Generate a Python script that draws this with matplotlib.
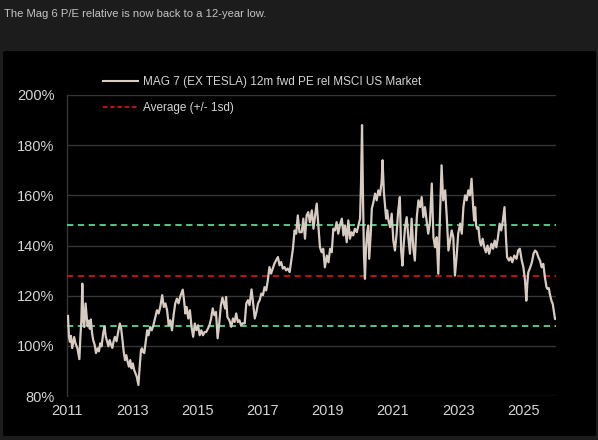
import matplotlib
matplotlib.use("Agg")
import matplotlib.pyplot as plt
from matplotlib.patches import FancyBboxPatch
from matplotlib.lines import Line2D

# ---------------- data ----------------
dates = [
    2011.00, 2011.03, 2011.06, 2011.09, 2011.12, 2011.16, 2011.22, 2011.26, 2011.32, 2011.38,
    2011.41, 2011.44, 2011.47, 2011.50, 2011.53, 2011.57, 2011.60, 2011.63, 2011.67, 2011.70,
    2011.73, 2011.77, 2011.80, 2011.85, 2011.89, 2011.94, 2011.98, 2012.02, 2012.06, 2012.11,
    2012.15, 2012.19, 2012.23, 2012.27, 2012.31, 2012.35, 2012.39, 2012.43, 2012.47, 2012.52,
    2012.57, 2012.62, 2012.66, 2012.70, 2012.74, 2012.78, 2012.82, 2012.86, 2012.90, 2012.94,
    2012.98, 2013.02, 2013.06, 2013.10, 2013.14, 2013.19, 2013.23, 2013.27, 2013.30, 2013.33,
    2013.37, 2013.41, 2013.46, 2013.50, 2013.55, 2013.60, 2013.65, 2013.70, 2013.76, 2013.81,
    2013.86, 2013.92, 2013.97, 2014.02, 2014.07, 2014.12, 2014.17, 2014.22, 2014.27, 2014.32,
    2014.37, 2014.42, 2014.47, 2014.55, 2014.59, 2014.63, 2014.67, 2014.72, 2014.77, 2014.82,
    2014.87, 2014.92, 2014.97, 2015.02, 2015.07, 2015.12, 2015.17, 2015.22, 2015.27, 2015.32,
    2015.37, 2015.42, 2015.47, 2015.52, 2015.57, 2015.62, 2015.67, 2015.72, 2015.77, 2015.81,
    2015.85, 2015.88, 2015.92, 2015.98, 2016.04, 2016.09, 2016.14, 2016.19, 2016.24, 2016.29,
    2016.34, 2016.39, 2016.45, 2016.50, 2016.55, 2016.60, 2016.66, 2016.71, 2016.76, 2016.81,
    2016.86, 2016.91, 2016.96, 2017.01, 2017.06, 2017.11, 2017.16, 2017.21, 2017.26, 2017.31,
    2017.36, 2017.41, 2017.47, 2017.52, 2017.57, 2017.62, 2017.67, 2017.72, 2017.77, 2017.83,
    2017.88, 2017.93, 2017.98, 2018.03, 2018.08, 2018.13, 2018.20, 2018.25, 2018.30, 2018.35,
    2018.40, 2018.45, 2018.51, 2018.56, 2018.61, 2018.66, 2018.71, 2018.76, 2018.81, 2018.86,
    2018.91, 2018.97, 2019.02, 2019.07, 2019.12, 2019.17, 2019.22, 2019.27, 2019.32, 2019.37,
    2019.43, 2019.48, 2019.53, 2019.58, 2019.63, 2019.68, 2019.73, 2019.78, 2019.83, 2019.89,
    2019.94, 2019.99, 2020.02, 2020.05, 2020.08, 2020.11, 2020.14, 2020.17, 2020.21, 2020.24,
    2020.27, 2020.32, 2020.35, 2020.40, 2020.45, 2020.50, 2020.55, 2020.60, 2020.65, 2020.68,
    2020.72, 2020.76, 2020.79, 2020.82, 2020.86, 2020.91, 2020.96, 2021.01, 2021.06, 2021.11,
    2021.16, 2021.21, 2021.25, 2021.29, 2021.33, 2021.37, 2021.42, 2021.47, 2021.52, 2021.57,
    2021.62, 2021.67, 2021.73, 2021.78, 2021.83, 2021.88, 2021.93, 2021.98, 2022.03, 2022.08,
    2022.13, 2022.19, 2022.24, 2022.29, 2022.34, 2022.39, 2022.44, 2022.49, 2022.54, 2022.60,
    2022.65, 2022.70, 2022.75, 2022.80, 2022.85, 2022.90, 2022.95, 2023.00, 2023.06, 2023.11,
    2023.16, 2023.21, 2023.26, 2023.31, 2023.36, 2023.41, 2023.46, 2023.49, 2023.52, 2023.55,
    2023.58, 2023.62, 2023.66, 2023.70, 2023.75, 2023.80, 2023.85, 2023.90, 2023.95, 2024.02,
    2024.07, 2024.12, 2024.17, 2024.22, 2024.27, 2024.32, 2024.37, 2024.42, 2024.47, 2024.50,
    2024.56, 2024.61, 2024.66, 2024.72, 2024.79, 2024.84, 2024.89, 2024.95, 2025.00, 2025.05,
    2025.09, 2025.12, 2025.15, 2025.21, 2025.26, 2025.31, 2025.36, 2025.41, 2025.46, 2025.51,
    2025.56, 2025.61, 2025.66, 2025.71, 2025.74, 2025.78, 2025.81, 2025.86, 2025.90, 2025.93,
    2025.97, 2026.01,
]
values = [
    111.0, 112.0, 103.6, 101.6, 104.0, 99.1, 103.5, 101.0, 99.0, 94.7,
    103.5, 110.0, 124.8, 110.0, 107.5, 116.9, 112.5, 107.8, 110.0, 106.8,
    110.5, 105.0, 102.5, 100.3, 97.1, 99.0, 97.8, 101.0, 99.8, 105.0,
    107.6, 103.6, 101.8, 99.8, 102.3, 100.5, 99.2, 101.8, 103.6, 101.8,
    105.5, 108.9, 107.0, 102.5, 97.6, 94.3, 96.3, 93.6, 91.7, 94.3,
    91.0, 93.0, 90.4, 89.0, 87.7, 84.4, 91.7, 98.3, 99.0, 97.6,
    97.1, 101.0, 106.2, 104.2, 107.5, 106.2, 108.2, 110.9, 114.2, 112.9,
    115.5, 120.2, 115.5, 116.9, 114.2, 108.2, 110.2, 106.2, 112.2, 116.9,
    118.8, 116.9, 119.5, 122.4, 118.2, 112.9, 115.5, 110.9, 114.2, 107.6,
    103.6, 108.9, 106.2, 108.2, 104.2, 106.2, 104.2, 105.5, 105.5, 106.8,
    108.2, 110.9, 114.9, 112.2, 113.5, 103.0, 109.0, 116.2, 119.2, 116.9,
    114.9, 119.5, 111.5, 110.2, 107.6, 110.9, 109.5, 112.9, 109.5, 110.2,
    108.2, 109.0, 108.9, 116.9, 118.2, 116.2, 122.5, 116.9, 110.9, 113.5,
    116.9, 118.2, 120.8, 120.2, 123.4, 122.1, 126.1, 131.4, 128.8, 130.8,
    132.7, 134.0, 135.4, 132.1, 133.4, 130.8, 131.4, 130.1, 130.8, 129.4,
    134.0, 138.7, 146.0, 144.7, 152.0, 145.3, 145.3, 150.7, 142.7, 152.0,
    153.3, 149.3, 154.0, 146.7, 152.0, 156.7, 148.0, 139.3, 137.3, 138.7,
    131.3, 136.0, 133.3, 138.7, 137.3, 146.7, 146.0, 149.3, 144.7, 148.0,
    150.7, 144.0, 148.0, 141.3, 150.0, 142.7, 145.3, 144.0, 146.7, 145.3,
    148.0, 150.7, 165.3, 188.0, 158.7, 136.0, 126.7, 138.7, 145.3, 148.0,
    134.7, 145.3, 154.7, 157.3, 160.7, 158.0, 162.0, 160.0, 165.3, 174.0,
    161.3, 155.0, 150.7, 154.0, 150.0, 147.3, 152.7, 142.0, 138.0, 144.7,
    154.0, 159.3, 138.0, 132.0, 140.7, 147.3, 151.3, 143.3, 136.7, 150.7,
    139.3, 134.0, 151.3, 158.0, 155.3, 159.3, 151.3, 155.3, 150.0, 144.7,
    148.7, 164.7, 143.3, 139.3, 143.3, 128.7, 151.3, 172.0, 158.0, 162.0,
    151.3, 138.0, 142.0, 146.0, 143.3, 128.0, 135.3, 144.7, 148.7, 144.7,
    155.3, 160.0, 158.0, 162.0, 160.0, 166.6, 155.0, 150.0, 155.3, 148.0,
    146.7, 147.3, 142.0, 140.0, 142.7, 139.3, 137.3, 140.0, 136.7, 140.7,
    138.7, 142.0, 139.3, 143.3, 148.7, 146.0, 150.0, 155.3, 142.0, 135.3,
    134.0, 135.3, 133.3, 136.0, 134.7, 138.0, 138.7, 134.0, 131.3, 126.0,
    118.0, 124.7, 129.3, 131.3, 133.3, 136.7, 138.0, 137.3, 135.3, 134.0,
    131.3, 132.7, 127.3, 123.3, 122.7, 123.0, 120.7, 118.0, 116.7, 114.0,
    110.7, 110.7,
]
avg_value = 128.0
sd_value = 20.0

series_label = "MAG 7 (EX TESLA) 12m fwd PE rel MSCI US Market"
avg_label = "Average (+/- 1sd)"
title_text = "The Mag 6 P/E relative is now back to a 12-year low."
x_ticks = [2011, 2013, 2015, 2017, 2019, 2021, 2023, 2025]
y_ticks = [80, 100, 120, 140, 160, 180, 200]

# ---------------- styling ----------------
outer_bg = "#1c1c1c"
panel_bg = "#000000"
text_col = "#d4d4d4"
grid_col = "#363636"
line_col = "#d8ccc2"
red_col = "#c81616"
green_col = "#5cd690"

plt.rcParams["font.family"] = ["Liberation Sans", "DejaVu Sans"]

W, H = 598, 440
fig = plt.figure(figsize=(W / 100, H / 100), dpi=100, facecolor=outer_bg)

panel = FancyBboxPatch((3 / W, 4 / H), 593 / W, 385 / H,
                       boxstyle="round,pad=0,rounding_size=0.004",
                       transform=fig.transFigure, facecolor=panel_bg,
                       edgecolor="none", zorder=-10)
fig.patches.append(panel)

fig.text(4 / W, 1 - 14 / H, title_text, color="#c4c4c4", fontsize=8.1,
         ha="left", va="center")

ax = fig.add_axes([67 / W, 1 - 396 / H, (556 - 67) / W, (396 - 95) / H])
ax.set_facecolor("none")
ax.set_zorder(1)

for yt in y_ticks:
    ax.axhline(yt, color=grid_col, lw=1.0, zorder=1)

ax.plot(dates, values, color=line_col, lw=1.6, zorder=4)
ax.axhline(avg_value, color=red_col, lw=1.3, ls=(0, (3.5, 2.5)), zorder=3)
ax.axhline(avg_value + sd_value, color=green_col, lw=1.3, ls=(0, (3.5, 2.5)), zorder=3)
ax.axhline(avg_value - sd_value, color=green_col, lw=1.3, ls=(0, (3.5, 2.5)), zorder=3)

ax.set_xlim(2011, 2026)
ax.set_ylim(80, 200)
ax.set_xticks(x_ticks)
ax.set_xticklabels([str(t) for t in x_ticks])
ax.set_yticks(y_ticks)
ax.set_yticklabels([f"{t}%" for t in y_ticks])
ax.tick_params(axis="both", length=0, colors=text_col, labelsize=10.5)
ax.tick_params(axis="y", pad=9)
ax.tick_params(axis="x", pad=6)

for s in ["top", "right", "bottom"]:
    ax.spines[s].set_visible(False)
ax.spines["left"].set_color(grid_col)
ax.spines["left"].set_linewidth(1.0)

handles = [Line2D([], [], color=line_col, lw=1.5),
           Line2D([], [], color=red_col, lw=1.3, ls=(0, (2.5, 1.5)))]
leg = fig.legend(handles, [series_label, avg_label],
                 loc="upper left", bbox_to_anchor=(103 / W, 1 - 76 / H),
                 frameon=False, fontsize=8.5, handlelength=2.95,
                 handletextpad=0.42, labelspacing=1.2, labelcolor=text_col,
                 borderaxespad=0, borderpad=0)
leg.set_zorder(5)

fig.savefig("out.png", dpi=100, facecolor=outer_bg)
